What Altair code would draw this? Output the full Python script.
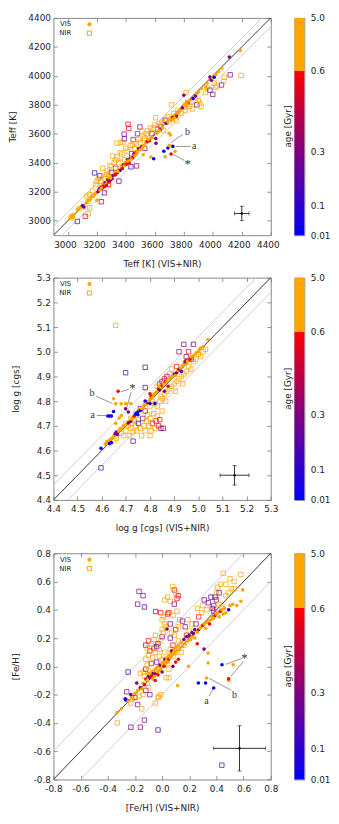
import altair as alt
import pandas as pd

FONT = "DejaVu Sans"
SERIF = "Liberation Serif"
TXT = "#222222"

# age colour scale (Gyr)
AGE_DOMAIN = [0.01, 0.3, 0.6, 0.6001, 5.0]
AGE_COLORS = ["#0000ff", "#800080", "#ff0000", "#ffa500", "#ffa500"]
CB_TICKS = [0.01, 0.1, 0.3, 0.6, 5.0]
CB_FRAC = [0.0, 0.136, 0.384, 0.756, 1.0]

# ---------------- Teff panel: (VIS+NIR value, single-arm value, age) ----------------
TEFF_VIS = [
    (3020, 3020, 5), (3025, 3030, 5), (3030, 3022, 5), (3032, 3035, 5), (3036, 3028, 5), (3040, 3040, 5),
    (3065, 3078, 5), (3085, 3092, 5), (3100, 3105, 0.3), (3110, 3095, 0.15), (3130, 3125, 5), (3142, 3140, 5),
    (3155, 3150, 5), (3165, 3170, 5), (3175, 3168, 5), (3185, 3182, 5), (3200, 3142, 5), (3198, 3195, 5),
    (3208, 3200, 0.3), (3215, 3218, 0.3), (3222, 3212, 5), (3228, 3232, 0.6), (3236, 3224, 0.3), (3242, 3248, 5),
    (3246, 3238, 0.45), (3252, 3235, 0.6), (3256, 3262, 0.3), (3262, 3252, 5), (3266, 3244, 0.6), (3272, 3270, 5),
    (3276, 3282, 0.3), (3282, 3266, 0.6), (3286, 3292, 5), (3292, 3280, 0.3), (3300, 3302, 5), (3306, 3290, 0.45),
    (3312, 3312, 0.3), (3320, 3330, 5), (3328, 3318, 0.6), (3336, 3346, 5), (3342, 3332, 0.3), (3350, 3352, 5),
    (3360, 3346, 0.15), (3368, 3372, 5), (3376, 3360, 0.6), (3382, 3386, 0.3), (3390, 3380, 5), (3398, 3402, 5),
    (3404, 3390, 0.6), (3410, 3420, 0.3), (3418, 3410, 5), (3424, 3398, 0.6), (3430, 3432, 0.3), (3440, 3442, 5),
    (3448, 3434, 0.45), (3455, 3460, 0.3), (3462, 3450, 5), (3470, 3470, 0.6), (3480, 3476, 5), (3488, 3498, 0.3),
    (3498, 3490, 5), (3508, 3510, 0.3), (3520, 3455, 5), (3526, 3520, 5), (3538, 3540, 5), (3548, 3546, 0.6),
    (3562, 3552, 0.6), (3572, 3440, 5), (3580, 3572, 5), (3592, 3428, 0.03), (3606, 3568, 0.3), (3608, 3534, 0.3),
    (3612, 3602, 5), (3622, 3612, 5), (3640, 3630, 0.3), (3652, 3642, 5), (3662, 3480, 0.03), (3671, 3441, 5),
    (3680, 3672, 0.3), (3690, 3502, 0.03), (3698, 3604, 5), (3708, 3592, 5), (3700, 3520, 5), (3708, 3694, 5),
    (3712, 3461, 0.6), (3724, 3513, 0.03), (3740, 3480, 5), (3722, 3712, 0.6), (3738, 3730, 5), (3750, 3722, 0.45),
    (3762, 3742, 5), (3778, 3768, 5), (3790, 3780, 0.3), (3800, 3866, 0.3), (3802, 3800, 5), (3812, 3792, 5),
    (3820, 3822, 5), (3830, 3812, 0.6), (3842, 3832, 5), (3864, 3843, 0.03), (3880, 3860, 0.3), (3892, 3880, 5),
    (3904, 3890, 5), (3922, 3912, 5), (3952, 3922, 5), (3980, 3992, 0.3), (3990, 3970, 0.3), (4000, 3985, 5),
    (4010, 3990, 0.03), (4022, 4010, 5), (4040, 4030, 5), (4062, 4052, 5), (4114, 4130, 0.3), (4190, 4175, 5),
    (3232, 3226, 5), (3296, 3294, 5), (3344, 3340, 5), (3414, 3412, 5), (3436, 3424, 5), (3474, 3462, 5),
    (3514, 3504, 5), (3556, 3560, 5), (3632, 3622, 5), (3690, 3682, 5), (3726, 3702, 5), (3770, 3756, 5),
    (3822, 3806, 5), (3836, 3826, 5), (3960, 3950, 5),
]
TEFF_NIR = [
    (3020, 3020, 5), (3030, 3032, 5), (3065, 2995, 0.15), (3075, 3082, 5), (3110, 3095, 5), (3120, 3030, 0.6),
    (3140, 3048, 5), (3150, 3090, 5), (3140, 3132, 5), (3130, 3170, 5), (3150, 3180, 5), (3170, 3205, 5),
    (3184, 3330, 0.15), (3190, 3250, 5), (3200, 3272, 5), (3210, 3292, 5), (3220, 3310, 0.3), (3231, 3131, 0.3),
    (3230, 3242, 5), (3240, 3362, 5), (3252, 3192, 0.3), (3260, 3302, 5), (3270, 3342, 5), (3280, 3250, 0.6),
    (3290, 3382, 5), (3300, 3332, 0.3), (3308, 3446, 5), (3320, 3402, 5), (3330, 3362, 0.45), (3338, 3535, 5),
    (3340, 3440, 5), (3352, 3273, 0.3), (3360, 3470, 5), (3362, 3540, 5), (3380, 3540, 5), (3388, 3598, 0.3),
    (3392, 3420, 5), (3400, 3500, 5), (3390, 3565, 0.3), (3415, 3666, 0.6), (3420, 3637, 0.6), (3435, 3372, 0.15),
    (3430, 3520, 5), (3440, 3462, 0.3), (3450, 3560, 0.45), (3460, 3500, 5), (3474, 3378, 0.3), (3480, 3600, 0.3),
    (3497, 3647, 0.3), (3500, 3540, 5), (3510, 3620, 5), (3520, 3582, 5), (3530, 3500, 0.45), (3540, 3600, 5),
    (3550, 3620, 5), (3560, 3562, 5), (3570, 3640, 5), (3580, 3600, 0.45), (3600, 3660, 5), (3605, 3711, 5),
    (3620, 3632, 0.3), (3640, 3652, 0.6), (3650, 3680, 5), (3660, 3622, 5), (3671, 3693, 0.3), (3680, 3700, 5),
    (3700, 3682, 5), (3715, 3800, 5), (3720, 3702, 5), (3740, 3720, 5), (3750, 3690, 5), (3760, 3762, 5),
    (3780, 3742, 5), (3800, 3782, 5), (3810, 3760, 5), (3815, 3884, 5), (3820, 3800, 5), (3840, 3790, 5),
    (3850, 3820, 5), (3860, 3772, 5), (3880, 3850, 5), (3890, 3800, 0.3), (3900, 3830, 5), (3910, 3810, 5),
    (3920, 3790, 5), (3950, 3884, 5), (3960, 3920, 5), (3980, 3901, 0.3), (4000, 3872, 0.3), (4010, 3950, 5),
    (4020, 3920, 5), (4030, 3930, 5), (4060, 3937, 0.3), (4075, 3962, 5), (4080, 3990, 5), (4120, 4007, 0.3),
    (4195, 4003, 5), (3250, 3290, 5), (3280, 3322, 5), (3330, 3420, 5), (3410, 3480, 5), (3470, 3530, 5),
    (3225, 3270, 5), (3265, 3320, 5), (3300, 3372, 5), (3350, 3400, 5), (3372, 3460, 5), (3445, 3520, 5),
    (3490, 3560, 5), (3530, 3570, 5), (3590, 3640, 5), (3630, 3670, 5), (3690, 3718, 5), (3730, 3740, 5),
]
TEFF_TICKS = [3000, 3200, 3400, 3600, 3800, 4000, 4200, 4400]

# ---------------- log g panel ----------------
LOGG_VIS = [
    (4.597, 4.609, 0.03), (4.615, 4.625, 5), (4.62, 4.635, 5), (4.625, 4.63, 5), (4.63, 4.64, 5), (4.632, 4.628, 0.03),
    (4.635, 4.645, 5), (4.64, 4.632, 0.03), (4.642, 4.65, 5), (4.648, 4.655, 5), (4.652, 4.66, 5), (4.655, 4.668, 0.3),
    (4.66, 4.675, 0.3), (4.665, 4.665, 0.3), (4.67, 4.68, 5), (4.675, 4.688, 5), (4.68, 4.69, 5), (4.69, 4.70, 5),
    (4.70, 4.705, 5), (4.71, 4.712, 0.3), (4.72, 4.718, 0.3), (4.722, 4.728, 5), (4.73, 4.735, 5), (4.735, 4.74, 0.6),
    (4.74, 4.748, 0.03), (4.745, 4.752, 0.03), (4.75, 4.745, 0.03), (4.752, 4.76, 0.03), (4.755, 4.765, 5),
    (4.76, 4.762, 0.03), (4.765, 4.77, 5), (4.77, 4.775, 5), (4.775, 4.785, 5), (4.78, 4.80, 0.03), (4.785, 4.79, 5),
    (4.79, 4.795, 0.3), (4.795, 4.80, 5), (4.80, 4.79, 0.03), (4.80, 4.81, 5), (4.80, 4.83, 0.6), (4.805, 4.82, 0.6),
    (4.81, 4.815, 5), (4.815, 4.825, 5), (4.82, 4.79, 0.03), (4.82, 4.83, 5), (4.825, 4.835, 5), (4.83, 4.84, 5),
    (4.835, 4.85, 0.6), (4.84, 4.845, 0.3), (4.84, 4.86, 5), (4.845, 4.855, 5), (4.85, 4.865, 0.6), (4.855, 4.87, 5),
    (4.86, 4.84, 0.3), (4.86, 4.875, 5), (4.865, 4.88, 0.6), (4.87, 4.88, 5), (4.875, 4.86, 0.6), (4.88, 4.89, 5),
    (4.885, 4.895, 5), (4.89, 4.90, 5), (4.90, 4.91, 0.3), (4.905, 4.905, 5), (4.91, 4.915, 0.3), (4.915, 4.925, 5),
    (4.92, 4.93, 0.3), (4.925, 4.935, 5), (4.93, 4.92, 0.3), (4.935, 4.945, 5), (4.94, 4.95, 5), (4.945, 4.96, 0.3),
    (4.95, 4.965, 0.6), (4.955, 4.96, 5), (4.96, 4.975, 5), (4.965, 4.97, 0.6), (4.97, 4.98, 5), (4.98, 4.985, 5),
    (4.99, 4.995, 5), (5.00, 5.00, 5), (5.005, 5.01, 5), (5.01, 5.015, 5), (5.02, 5.02, 5), (5.04, 5.05, 5),
    (4.625, 4.74, 0.03), (4.633, 4.74, 0.03), (4.64, 4.74, 0.03), (4.649, 4.758, 0.03), (4.658, 4.789, 5),
    (4.649, 4.81, 5), (4.681, 4.789, 5), (4.681, 4.742, 5), (4.668, 4.84, 0.6), (4.699, 4.79, 5), (4.699, 4.769, 0.3),
    (4.71, 4.756, 0.3), (4.658, 4.71, 5), (4.72, 4.79, 5), (4.672, 4.732, 5),
]
LOGG_NIR = [
    (4.658, 5.107, 5), (4.699, 4.915, 0.15), (4.78, 4.937, 0.15), (4.78, 4.855, 0.15), (4.597, 4.53, 0.15),
    (4.73, 4.638, 0.15), (4.68, 4.67, 5), (4.69, 4.66, 5), (4.70, 4.68, 5), (4.71, 4.70, 5), (4.715, 4.66, 5),
    (4.72, 4.69, 5), (4.725, 4.71, 5), (4.73, 4.675, 5), (4.735, 4.72, 5), (4.74, 4.70, 5), (4.745, 4.68, 5),
    (4.75, 4.725, 5), (4.752, 4.71, 0.15), (4.76, 4.69, 5), (4.765, 4.66, 5), (4.77, 4.73, 0.3), (4.775, 4.70, 5),
    (4.78, 4.68, 5), (4.785, 4.72, 5), (4.79, 4.745, 5), (4.795, 4.70, 5), (4.80, 4.66, 5), (4.80, 4.73, 5),
    (4.805, 4.68, 5), (4.81, 4.71, 0.6), (4.815, 4.75, 5), (4.82, 4.69, 5), (4.825, 4.72, 0.6), (4.83, 4.74, 5),
    (4.835, 4.70, 0.6), (4.84, 4.725, 0.6), (4.845, 4.69, 0.3), (4.85, 4.76, 5), (4.855, 4.69, 0.3), (4.78, 4.76, 0.6),
    (4.80, 4.78, 5), (4.81, 4.80, 5), (4.82, 4.79, 5), (4.83, 4.78, 5), (4.84, 4.80, 5), (4.845, 4.82, 5),
    (4.85, 4.81, 5), (4.86, 4.83, 5), (4.865, 4.80, 5), (4.87, 4.84, 5), (4.88, 4.85, 5), (4.89, 4.86, 5),
    (4.90, 4.87, 5), (4.905, 4.84, 5), (4.91, 4.88, 5), (4.92, 4.89, 5), (4.93, 4.90, 5), (4.935, 4.87, 5),
    (4.94, 4.91, 5), (4.95, 4.92, 5), (4.96, 4.94, 5), (4.97, 4.93, 5), (4.98, 4.96, 5), (4.99, 4.97, 5),
    (5.00, 4.99, 5), (5.01, 4.98, 5), (5.02, 5.00, 5), (5.03, 5.01, 5), (4.84, 4.87, 0.6), (4.86, 4.89, 0.6),
    (4.85, 4.88, 0.3), (4.83, 4.86, 5), (4.88, 4.91, 5), (4.87, 4.90, 0.3), (4.92, 5.00, 0.3), (4.94, 5.03, 0.3),
    (4.96, 5.00, 0.6), (4.98, 5.03, 0.3), (4.95, 4.98, 0.3), (4.97, 4.97, 0.6), (4.91, 4.94, 0.6), (4.89, 4.93, 5),
    (4.72, 4.73, 5), (4.74, 4.75, 5), (4.76, 4.77, 0.15), (4.70, 4.71, 5), (4.65, 4.64, 5), (4.66, 4.65, 5),
]
LOGG_TICKS = [4.4, 4.5, 4.6, 4.7, 4.8, 4.9, 5.0, 5.1, 5.2, 5.3]

# ---------------- [Fe/H] panel ----------------
FEH_VIS = [
    (-0.332, -0.329, 5), (-0.30, -0.30, 5), (-0.272, -0.23, 0.03), (-0.265, -0.24, 0.03), (-0.255, -0.24, 0.03),
    (-0.25, -0.245, 5), (-0.23, -0.20, 0.3), (-0.22, -0.22, 5), (-0.20, -0.19, 5), (-0.187, -0.118, 0.3),
    (-0.18, -0.17, 5), (-0.16, -0.15, 0.3), (-0.15, -0.16, 5), (-0.14, -0.12, 5), (-0.13, -0.13, 0.6),
    (-0.12, -0.09, 0.6), (-0.11, -0.10, 5), (-0.10, -0.07, 0.3), (-0.10, -0.05, 5), (-0.09, -0.08, 0.3),
    (-0.085, -0.06, 5), (-0.08, -0.07, 0.6), (-0.075, -0.04, 5), (-0.07, -0.09, 5), (-0.065, -0.05, 0.3),
    (-0.06, -0.03, 5), (-0.055, -0.07, 5), (-0.05, -0.10, 0.6), (-0.05, -0.02, 5), (-0.045, -0.05, 0.3),
    (-0.04, -0.01, 5), (-0.035, -0.04, 5), (-0.03, -0.06, 0.6), (-0.025, 0.0, 5), (-0.02, -0.03, 5),
    (-0.015, 0.01, 0.3), (-0.01, -0.02, 5), (0.0, -0.04, 0.3), (0.0, 0.02, 5), (0.005, 0.0, 5), (0.01, 0.03, 5),
    (0.015, 0.0, 0.6), (0.02, 0.05, 0.3), (0.025, 0.02, 5), (0.03, 0.04, 5), (0.035, 0.06, 5), (0.04, 0.03, 5),
    (0.045, 0.07, 5), (0.05, 0.05, 0.6), (0.055, 0.08, 5), (0.06, 0.06, 5), (0.065, 0.09, 5), (0.07, 0.11, 0.3),
    (0.075, 0.08, 5), (0.08, 0.0, 0.3), (0.085, 0.10, 5), (0.09, 0.12, 5), (0.095, 0.09, 5), (0.10, 0.03, 0.6),
    (0.10, 0.13, 5), (0.105, 0.11, 5), (0.11, 0.14, 5), (0.114, -0.136, 5), (0.12, 0.05, 0.6), (0.12, 0.15, 5),
    (0.13, 0.12, 5), (0.14, 0.17, 5), (0.15, 0.14, 5), (0.16, 0.19, 0.3), (0.17, 0.16, 5), (0.18, 0.21, 0.3),
    (0.19, 0.18, 5), (0.194, 0.0, 5), (0.20, 0.22, 0.3), (0.21, 0.19, 5), (0.22, 0.21, 5), (0.23, 0.23, 0.3),
    (0.24, 0.20, 5), (0.25, 0.25, 5), (0.259, 0.16, 0.6), (0.26, 0.24, 5), (0.27, 0.26, 0.3), (0.28, 0.27, 5),
    (0.29, 0.28, 5), (0.30, 0.29, 0.6), (0.309, 0.122, 0.3), (0.31, 0.30, 5), (0.32, 0.27, 5), (0.33, 0.31, 5),
    (0.339, 0.094, 5), (0.339, 0.024, 5), (0.327, -0.082, 5), (0.34, 0.32, 5), (0.35, 0.30, 0.6), (0.36, 0.33, 5),
    (0.37, 0.35, 5), (0.38, 0.34, 5), (0.39, 0.36, 0.6), (0.40, 0.37, 5), (0.41, 0.38, 5), (0.42, 0.35, 5),
    (0.43, 0.39, 0.6), (0.44, 0.40, 5), (0.45, 0.37, 5), (0.46, 0.41, 5), (0.47, 0.38, 5), (0.49, 0.40, 0.03),
    (0.50, 0.43, 5), (0.52, 0.44, 5), (0.55, 0.43, 5), (0.58, 0.46, 5), (0.594, 0.541, 5), (0.036, 0.264, 0.3),
    (0.22, 0.24, 0.3), (0.24, 0.26, 0.3), (0.267, -0.118, 0.03), (0.32, -0.118, 0.03), (0.38, -0.153, 0.03),
    (0.441, 0.012, 0.03), (0.524, 0.012, 5), (0.49, -0.10, 5), (0.49, -0.088, 0.6),
]
FEH_NIR = [
    (-0.33, -0.40, 5), (-0.26, -0.18, 0.3), (-0.25, -0.04, 0.15), (-0.23, -0.26, 5), (-0.23, -0.43, 0.3),
    (-0.22, -0.23, 5), (-0.20, -0.22, 0.3), (-0.18, -0.27, 0.3), (-0.16, -0.43, 0.3), (-0.15, -0.30, 5),
    (-0.13, -0.38, 0.3), (-0.17, -0.21, 5), (-0.14, -0.20, 5), (-0.12, -0.17, 0.3), (-0.11, -0.12, 5),
    (-0.10, -0.15, 5), (-0.09, -0.20, 0.3), (-0.05, -0.26, 5), (-0.03, -0.45, 0.15), (-0.024, -0.214, 5),
    (-0.03, -0.22, 5), (-0.01, -0.20, 5), (-0.17, 0.53, 0.3), (-0.14, 0.50, 0.3), (-0.18, 0.44, 0.3),
    (-0.13, 0.42, 0.15), (-0.048, 0.388, 0.15), (-0.16, -0.05, 5), (-0.14, -0.04, 5), (-0.13, -0.07, 5),
    (-0.12, -0.02, 0.3), (-0.11, 0.01, 5), (-0.10, -0.03, 5), (-0.12, 0.05, 5), (-0.10, 0.08, 5), (-0.08, 0.02, 0.6),
    (-0.09, 0.11, 0.6), (-0.07, 0.06, 5), (-0.06, 0.13, 0.6), (-0.05, 0.10, 5), (-0.12, 0.15, 0.3), (-0.11, 0.13, 5),
    (-0.10, 0.18, 0.6), (-0.08, 0.16, 5), (-0.06, 0.19, 5), (-0.05, 0.22, 5), (-0.04, 0.14, 0.3), (-0.03, 0.16, 0.3),
    (-0.02, 0.12, 5), (-0.01, 0.18, 5), (0.0, 0.21, 0.3), (0.0, 0.26, 5), (0.01, 0.24, 5), (-0.01, 0.38, 0.6),
    (0.0, 0.33, 5), (0.01, 0.35, 5), (0.02, 0.30, 5), (0.03, 0.28, 5), (0.04, 0.37, 0.6), (0.05, 0.38, 0.6),
    (0.02, 0.47, 5), (0.04, 0.49, 5), (0.06, 0.46, 5), (0.078, 0.565, 5), (0.09, 0.54, 0.6), (0.10, 0.52, 5),
    (0.11, 0.48, 0.6), (0.12, 0.50, 0.6), (0.09, 0.44, 0.3), (0.08, 0.36, 5), (0.11, 0.39, 5), (0.13, 0.33, 5),
    (0.06, 0.30, 0.3), (0.07, 0.24, 5), (0.09, 0.22, 5), (0.10, 0.26, 0.6), (0.12, 0.28, 5), (0.15, 0.32, 0.3),
    (0.17, 0.28, 0.3), (0.19, 0.33, 5), (0.20, 0.25, 5), (0.22, 0.30, 5), (0.25, 0.30, 0.3), (0.27, 0.35, 0.6),
    (0.26, 0.41, 5), (0.29, 0.38, 5), (0.30, 0.43, 5), (0.33, 0.40, 5), (0.31, 0.47, 0.3), (0.34, 0.45, 0.3),
    (0.37, 0.41, 0.3), (0.38, 0.43, 0.3), (0.36, 0.49, 0.15), (0.39, 0.49, 0.3), (0.40, 0.47, 0.3), (0.40, 0.52, 5),
    (0.41, 0.56, 5), (0.42, 0.52, 0.3), (0.42, 0.44, 5), (0.44, 0.42, 5), (0.38, 0.39, 0.6), (0.43, 0.58, 5),
    (0.45, 0.659, 5), (0.47, 0.58, 5), (0.47, 0.50, 5), (0.49, 0.52, 5), (0.50, 0.62, 5), (0.51, 0.55, 5),
    (0.53, 0.60, 5), (0.53, 0.55, 5), (0.58, 0.65, 5), (0.0, 0.05, 5), (0.02, 0.10, 5), (0.04, 0.02, 5),
    (0.05, -0.02, 5), (0.05, -0.08, 5), (0.03, -0.08, 5), (0.06, 0.12, 5), (0.08, 0.07, 5), (0.10, 0.10, 5),
    (0.12, 0.18, 5), (0.14, 0.10, 5), (0.16, 0.15, 5), (0.18, 0.22, 0.6), (0.08, 0.15, 0.6), (0.06, 0.20, 0.3),
    (-0.02, 0.07, 5), (-0.04, 0.03, 0.3), (0.44, -0.699, 0.15),
]
FEH_TICKS = [-0.8, -0.6, -0.4, -0.2, 0.0, 0.2, 0.4, 0.6, 0.8]

# annotations: (label, x, y) and leader lines (x, y, x2, y2)
TEFF_NOTES = [("b", 3826, 3610), ("a", 3871, 3513), ("*", 3826, 3394)]
TEFF_LEADERS = [(3792, 3596, 3712, 3538), (3848, 3513, 3746, 3513), (3803, 3416, 3728, 3457)]
LOGG_NOTES = [("b", 4.56, 4.832), ("a", 4.563, 4.742), ("*", 4.727, 4.853)]
LOGG_LEADERS = [(4.577, 4.82, 4.645, 4.79), (4.58, 4.742, 4.622, 4.742),
                (4.712, 4.848, 4.679, 4.838), (4.722, 4.837, 4.703, 4.772)]
FEH_NOTES = [("*", 0.606, 0.056), ("b", 0.533, -0.2), ("a", 0.327, -0.247)]
FEH_LEADERS = [(0.587, 0.056, 0.468, 0.014), (0.60, 0.035, 0.507, -0.07),
               (0.509, -0.169, 0.347, -0.085), (0.345, -0.211, 0.376, -0.16)]

# typical error bars: (x, y, dx, dy)
TEFF_ERR = (4200, 3050, 50, 50)
LOGG_ERR = (5.15, 4.50, 0.06, 0.04)
FEH_ERR = (0.57, -0.58, 0.19, 0.16)


def panel(vis, nir, lo, hi, ticks, lbl, band, err, notes, leaders,
          xtitle, ytitle, W, H, ytpad, xtpad, xoff):
    pts = pd.DataFrame(
        [{"x": a, "y": b, "age": c, "type": "NIR"} for a, b, c in nir]
        + [{"x": a, "y": b, "age": c, "type": "VIS"} for a, b, c in vis])
    sx = alt.Scale(domain=[lo, hi], nice=False, zero=False)
    sy = alt.Scale(domain=[lo, hi], nice=False, zero=False)
    common = dict(values=ticks, labelExpr=lbl, labelFont=FONT, labelFontSize=9, labelColor=TXT,
                  labelOverlap=False, labelFlush=False,
                  titleFont=FONT, titleFontSize=9, titleFontWeight="normal", titleColor=TXT,
                  domain=False, grid=False, tickColor="#777777", tickWidth=0.8, tickSize=4, offset=-4)
    ax_b = alt.Axis(orient="bottom", title=xtitle, labelPadding=5, labelOffset={"expr": str(xoff)},
                    minExtent=18, maxExtent=18, titlePadding=xtpad, **common)
    ax_l = alt.Axis(orient="left", title=ytitle, labelPadding=3,
                    minExtent=31, maxExtent=31, titlePadding=ytpad, **common)
    ax_t = alt.Axis(orient="top", title=None, labels=False, **common)
    ax_r = alt.Axis(orient="right", title=None, labels=False, **common)

    diag = pd.DataFrame({"x": [lo, lo, lo + band], "y": [lo, lo + band, lo],
                         "x2": [hi, hi - band, hi], "y2": [hi, hi, hi - band],
                         "kind": ["one", "band", "band"]})
    base_d = alt.Chart(diag)
    gray = base_d.transform_filter("datum.kind == 'band'").mark_rule(
        color="#cfcfcf", strokeWidth=1, clip=True).encode(
        x=alt.X("x:Q", scale=sx, axis=None), y=alt.Y("y:Q", scale=sy, axis=None), x2="x2:Q", y2="y2:Q")
    one = base_d.transform_filter("datum.kind == 'one'").mark_rule(
        color="#333333", strokeWidth=1, clip=True).encode(
        x=alt.X("x:Q", scale=sx, axis=ax_t), y=alt.Y("y:Q", scale=sy, axis=ax_r), x2="x2:Q", y2="y2:Q")

    is_vis = "datum.type == 'VIS'"
    age_scale = alt.Scale(domain=AGE_DOMAIN, range=AGE_COLORS, interpolate="rgb")
    legend = alt.Legend(
        title=None, orient="none", legendX=33, legendY=3, direction="vertical",
        labelFont=FONT, labelFontSize=7, labelColor=TXT, labelAlign="right", labelOffset={"expr": "-22"},
        symbolSize=18, symbolStrokeWidth=1, rowPadding=0, padding=0,
        symbolFillColor={"expr": "datum.value === 'VIS' ? '#ffa500' : 'transparent'"},
        symbolStrokeColor={"expr": "datum.value === 'VIS' ? 'transparent' : '#ffa500'"})
    points = alt.Chart(pts).mark_point(filled=True, opacity=1, strokeWidth=0.9, strokeOpacity=0.8).encode(
        x=alt.X("x:Q", scale=sx, axis=ax_b),
        y=alt.Y("y:Q", scale=sy, axis=ax_l),
        fill=alt.Fill("age:Q", scale=age_scale, legend=None),
        fillOpacity=alt.condition(is_vis, alt.value(1), alt.value(0)),
        stroke=alt.condition(is_vis, alt.value("transparent"), alt.Stroke("age:Q", scale=age_scale, legend=None)),
        shape=alt.Shape("type:N", scale=alt.Scale(domain=["VIS", "NIR"], range=["circle", "square"]), legend=legend),
        size=alt.condition(is_vis, alt.value(13), alt.value(20)),
    )

    ex, ey, dx, dy = err
    e = pd.DataFrame({"x": [ex], "y": [ey], "xlo": [ex - dx], "xhi": [ex + dx], "ylo": [ey - dy], "yhi": [ey + dy]})
    be = alt.Chart(e)
    hbar = be.mark_rule(color="black", strokeWidth=0.8).encode(
        x=alt.X("xlo:Q", scale=sx, axis=None), x2="xhi:Q", y=alt.Y("y:Q", scale=sy, axis=None))
    vbar = be.mark_rule(color="black", strokeWidth=0.8).encode(
        y=alt.Y("ylo:Q", scale=sy, axis=None), y2="yhi:Q", x=alt.X("x:Q", scale=sx, axis=None))
    capl = be.mark_tick(orient="vertical", color="black", size=4, thickness=0.8).encode(
        x=alt.X("xlo:Q", scale=sx, axis=None), y=alt.Y("y:Q", scale=sy, axis=None))
    capr = be.mark_tick(orient="vertical", color="black", size=4, thickness=0.8).encode(
        x=alt.X("xhi:Q", scale=sx, axis=None), y=alt.Y("y:Q", scale=sy, axis=None))
    capb = be.mark_tick(orient="horizontal", color="black", size=4, thickness=0.8).encode(
        x=alt.X("x:Q", scale=sx, axis=None), y=alt.Y("ylo:Q", scale=sy, axis=None))
    capt = be.mark_tick(orient="horizontal", color="black", size=4, thickness=0.8).encode(
        x=alt.X("x:Q", scale=sx, axis=None), y=alt.Y("yhi:Q", scale=sy, axis=None))
    dot = be.mark_point(filled=True, color="black", size=6, opacity=1).encode(
        x=alt.X("x:Q", scale=sx, axis=None), y=alt.Y("y:Q", scale=sy, axis=None))

    ldf = pd.DataFrame(leaders, columns=["x", "y", "x2", "y2"])
    lead = alt.Chart(ldf).mark_rule(color="#666666", strokeWidth=0.7).encode(
        x=alt.X("x:Q", scale=sx, axis=None), y=alt.Y("y:Q", scale=sy, axis=None), x2="x2:Q", y2="y2:Q")
    ndf = pd.DataFrame(notes, columns=["t", "x", "y"])
    ndf["fs"] = [13 if t == "*" else 10 for t in ndf["t"]]
    txt = alt.Chart(ndf).mark_text(font=SERIF, color="#333333", baseline="middle", align="center").encode(
        x=alt.X("x:Q", scale=sx, axis=None), y=alt.Y("y:Q", scale=sy, axis=None), text="t:N",
        size=alt.Size("fs:Q", scale=None, legend=None))

    return alt.layer(gray, one, points, hbar, vbar, capl, capr, capb, capt, dot, lead, txt).resolve_axis(
        x="independent", y="independent").properties(width=W, height=H)


def colorbar(H):
    cb = pd.DataFrame({"lo": [CB_TICKS[0]], "hi": [CB_TICKS[-1]]})
    rng = [H * (1 - f) for f in CB_FRAC]
    grad = {"gradient": "linear", "x1": 0, "x2": 0, "y1": 1, "y2": 0,
            "stops": [{"offset": CB_FRAC[0], "color": "#0000ff"},
                      {"offset": CB_FRAC[2], "color": "#800080"},
                      {"offset": CB_FRAC[3], "color": "#ff0000"},
                      {"offset": CB_FRAC[3] + 0.001, "color": "#ffa500"},
                      {"offset": CB_FRAC[4], "color": "#ffa500"}]}
    lbl = "datum.value >= 5 ? '5.0' : (datum.value < 0.05 ? '0.01' : format(datum.value, '.1f'))"
    return alt.Chart(cb).mark_rect(fill=grad).encode(
        y=alt.Y("lo:Q", scale=alt.Scale(domain=CB_TICKS, range=rng, nice=False, zero=False),
                axis=alt.Axis(orient="right", values=CB_TICKS, labelExpr=lbl, ticks=False, domain=False,
                              grid=False, title=None, labelPadding=6, labelFont=FONT, labelFontSize=9,
                              labelColor=TXT, labelOverlap=False)),
        y2="hi:Q",
    ).properties(width=10, height=H, title=alt.TitleParams(
        "age [Gyr]", orient="left", anchor="middle", offset=2, font=FONT, fontSize=9,
        fontWeight="normal", color=TXT))


W = 220
H1, H2, H3 = 220, 225, 229
p1 = panel(TEFF_VIS, TEFF_NIR, 2900, 4400, TEFF_TICKS, "format(datum.value, 'd')", 60, TEFF_ERR,
           TEFF_NOTES, TEFF_LEADERS, "Teff [K] (VIS+NIR)", "Teff [K]", W, H1, 9, 11, -3)
p2 = panel(LOGG_VIS, LOGG_NIR, 4.4, 5.3, LOGG_TICKS, "format(datum.value, '.1f')", 0.06, LOGG_ERR,
           LOGG_NOTES, LOGG_LEADERS, "log g [cgs] (VIS+NIR)", "log g [cgs]", W, H2, 6, 10, 0)
p3 = panel(FEH_VIS, FEH_NIR, -0.8, 0.8, FEH_TICKS, "replace(format(datum.value, '.1f'), '\u2212', '-')", 0.2,
           FEH_ERR, FEH_NOTES, FEH_LEADERS, "[Fe/H] (VIS+NIR)", "[Fe/H]", W, H3, 6, 10, 0)


def row(p, H):
    return alt.hconcat(p, colorbar(H), spacing=24, bounds="flush").resolve_scale(
        shape="independent").resolve_legend(shape="independent")


row1 = row(p1, H1)
row2 = row(p2, H2)
row3 = row(p3, H3)
top = alt.vconcat(row1, row2, spacing=3).resolve_scale(shape="independent").resolve_legend(shape="independent")
chart = alt.vconcat(top, row3, spacing=15).resolve_scale(shape="independent").resolve_legend(
    shape="independent").properties(
    padding={"left": 0, "top": 0, "right": 0, "bottom": 0},
    background="white",
).configure_view(stroke="#888888", strokeWidth=1)

chart.save("out.html", embed_options={"renderer": "svg", "actions": False})
